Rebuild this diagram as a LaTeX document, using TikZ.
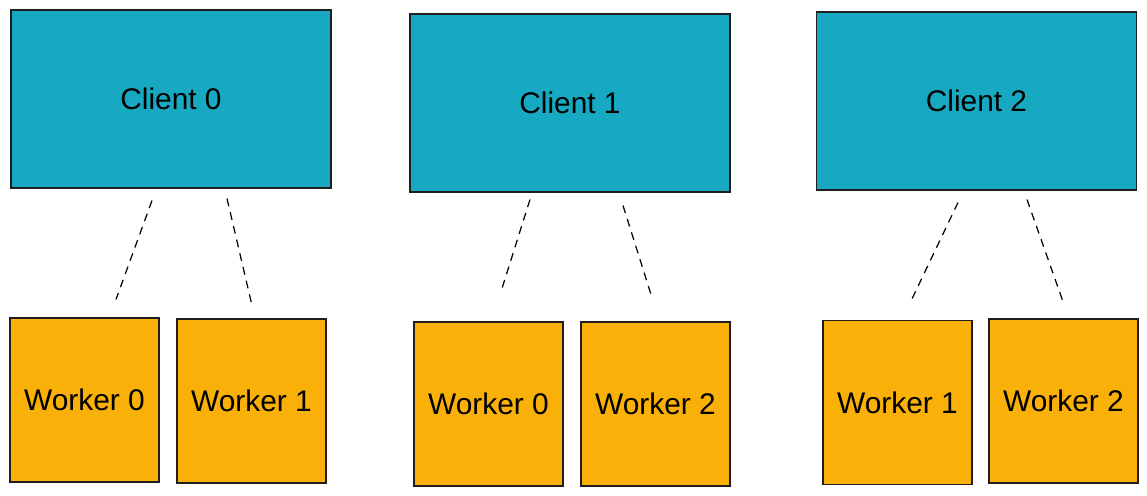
\documentclass[tikz,border=0pt]{standalone}
\usepackage{fontspec}
\setmainfont{Liberation Sans}
\usetikzlibrary{calc}
\definecolor{clientcol}{HTML}{17A9C1}
\definecolor{workercol}{HTML}{F9B008}
\definecolor{edgecol}{HTML}{1E1E1E}

\begin{document}
\begin{tikzpicture}[x=0.02cm,y=-0.02cm,semithick,font=\fontsize{17}{20}\selectfont]
  \tikzstyle{client}=[draw=edgecol,fill=clientcol,minimum width=320*0.02cm,minimum height=178*0.02cm,inner sep=0pt]
  \tikzstyle{worker}=[draw=edgecol,fill=workercol,minimum width=149*0.02cm,minimum height=164*0.02cm,inner sep=0pt]
  \tikzstyle{link}=[draw=black,line width=0.7pt,dash pattern=on 4.5pt off 3.5pt]
  \useasboundingbox (0,0) rectangle (1147,496);

  \node[client] (C0) at (171,99)    {Client 0};
  \node[client] (C1) at (570,103)   {Client 1};
  \node[client] (C2) at (976.5,101) {Client 2};

  \node[worker] (W00) at (84.5,400)   {Worker 0};
  \node[worker] (W01) at (251.5,401)  {Worker 1};
  \node[worker] (W10) at (488.5,404)  {Worker 0};
  \node[worker] (W12) at (655.5,404)  {Worker 2};
  \node[worker] (W21) at (897.5,402.5){Worker 1};
  \node[worker] (W22) at (1063.5,401) {Worker 2};

  \path ($(C0.south)+(-19,12)$)   edge [link] ($(W00.north)+(31.5,-18)$)
        ($(C0.south)+(56,10)$)    edge [link] ($(W01.north)+(0.5,-13)$)
        ($(C1.south)+(-40,7)$)    edge [link] ($(W10.north)+(13.5,-33)$)
        ($(C1.south)+(53,13)$)    edge [link] ($(W12.north)+(-4.5,-27)$)
        ($(C2.south)+(-18.5,12)$) edge [link] ($(W21.north)+(13.5,-19)$)
        ($(C2.south)+(50.5,9)$)   edge [link] ($(W22.north)+(0.5,-14)$);
\end{tikzpicture}
\end{document}
